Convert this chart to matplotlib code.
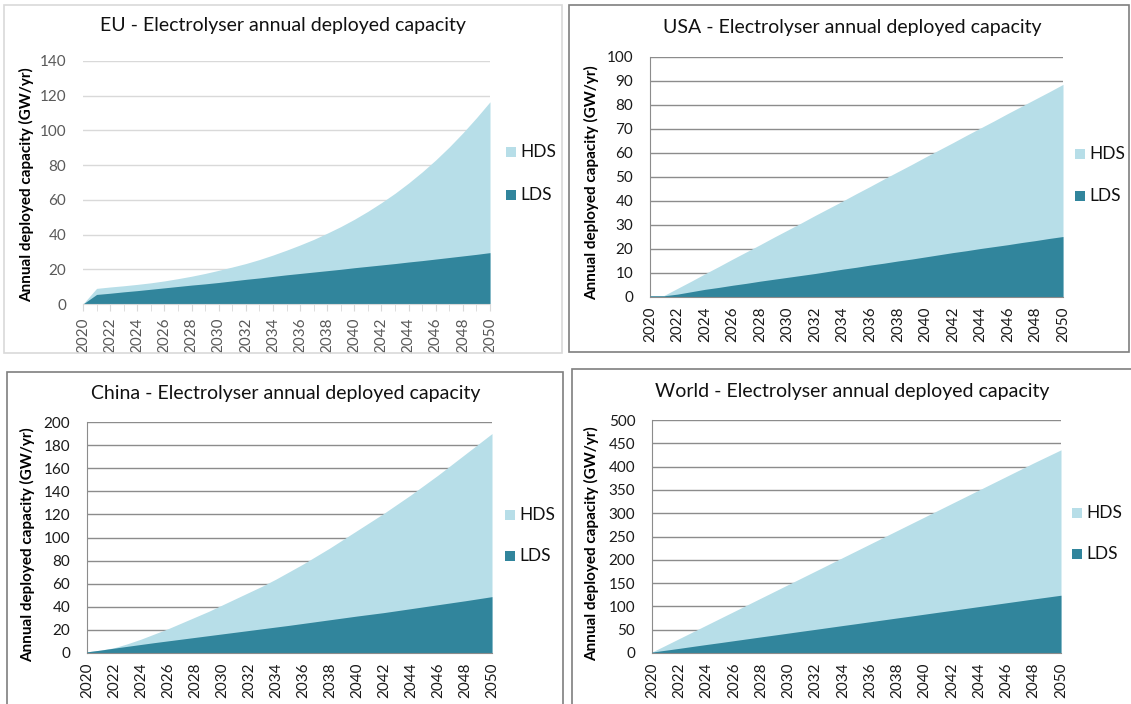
import matplotlib
matplotlib.use("Agg")
import matplotlib.pyplot as plt
from matplotlib.patches import Rectangle, Patch

plt.rcParams['font.family'] = ['Lato', 'DejaVu Sans']

years = list(range(2020, 2051))

eu_hds = [0, 9.0, 9.8, 10.5, 11.3, 12.2, 13.3, 14.6, 16.0, 17.6, 19.4, 21.3, 23.3, 25.6, 28.2, 31.0,
          34.0, 37.2, 40.8, 44.6, 48.8, 53.4, 58.4, 63.8, 69.7, 76.1, 83.0, 90.5, 98.6, 107.3, 116.5]
eu_lds = [0, 5.5, 6.2, 7.0, 7.7, 8.5, 9.3, 10.1, 10.9, 11.6, 12.4, 13.3, 14.2, 15.0, 15.9, 16.8,
          17.6, 18.4, 19.2, 20.0, 20.9, 21.7, 22.5, 23.3, 24.2, 25.0, 25.9, 26.8, 27.7, 28.6, 29.6]

usa_hds = [0.5, 0.6, 3.6, 6.6, 9.7, 12.7, 15.8, 18.8, 21.8, 24.9, 27.9, 30.9, 34.0, 37.0, 40.0, 43.1,
           46.1, 49.2, 52.2, 55.2, 58.3, 61.3, 64.3, 67.4, 70.4, 73.4, 76.5, 79.5, 82.5, 85.5, 88.6]
usa_lds = [0.5, 0.5, 1.2, 2.2, 3.2, 4.0, 4.9, 5.7, 6.6, 7.4, 8.2, 9.0, 9.8, 10.7, 11.6, 12.4,
           13.3, 14.1, 15.0, 15.8, 16.7, 17.6, 18.5, 19.3, 20.2, 21.0, 21.8, 22.7, 23.5, 24.4, 25.2]

china_hds = [1, 2.5, 4.5, 8, 12, 16.5, 21, 26, 31, 36, 41.5, 47, 52.5, 58, 64, 70.5,
             77, 84, 91, 98.5, 106, 113.5, 121, 129, 137, 145.5, 154, 163, 172, 181, 190]
china_lds = [1, 2.5, 4.2, 5.8, 7.4, 9.0, 10.5, 12.0, 13.5, 15.0, 16.5, 18.0, 19.5, 21.0, 22.5, 24.0,
             25.6, 27.2, 28.8, 30.4, 32.0, 33.5, 35.0, 36.7, 38.4, 40.1, 41.8, 43.5, 45.2, 47.0, 48.8]

world_hds = [2, 16.5, 31, 45.5, 60, 74.5, 89, 103.5, 118, 132.5, 147, 161.5, 176, 190.5, 205, 219.5,
             234, 248.5, 263, 277.5, 292, 306.5, 321, 335.5, 350, 364.5, 379, 393.5, 408, 422, 436]
world_lds = [2, 6, 10, 14.2, 18.3, 22.3, 26.4, 30.5, 34.6, 38.6, 42.7, 46.8, 50.8, 54.9, 59, 63,
             67.1, 71.2, 75.3, 79.3, 83.4, 87.5, 91.5, 95.6, 99.7, 103.7, 107.8, 111.9, 116, 120, 124]

titles = ["EU - Electrolyser annual deployed capacity",
          "USA - Electrolyser annual deployed capacity",
          "China - Electrolyser annual deployed capacity",
          "World - Electrolyser annual deployed capacity"]
ylabel = "Annual deployed capacity (GW/yr)"
legend_labels = ["HDS", "LDS"]

HDS_COLOR = "#B7DEE8"
LDS_COLOR = "#31859C"

W, H = 1131, 704
fig = plt.figure(figsize=(W / 100, H / 100), dpi=100)
fig.patch.set_facecolor("white")


def fx(x):
    return x / W


def fy(y):
    return 1 - y / H


def frame(x0, y0, x1, y1, color):
    fig.patches.append(Rectangle((fx(x0), fy(y1)), fx(x1 - x0), (y1 - y0) / H,
                                 transform=fig.transFigure, fill=False,
                                 edgecolor=color, linewidth=1.2, zorder=0))


def panel(title, hds, lds, ymax, ystep, box, frame_box, frame_col, title_xy, ylab_xy,
          legend_xy, eu_style):
    left, right, top, bottom = box
    ax = fig.add_axes([fx(left), fy(bottom), fx(right - left), (bottom - top) / H])
    ax.fill_between(years, 0, hds, color=HDS_COLOR, linewidth=0, zorder=2)
    ax.fill_between(years, 0, lds, color=LDS_COLOR, linewidth=0, zorder=3)
    ax.set_xlim(2020, 2050)
    ax.set_ylim(0, ymax)
    ax.set_yticks(range(0, ymax + 1, ystep))
    ax.set_xticks(range(2020, 2051, 2))
    ax.set_xticklabels([str(y) for y in range(2020, 2051, 2)], rotation=90)
    grid_col = "#D9D9D9" if eu_style else "#8C8C8C"
    lab_col = "#595959" if eu_style else "#1A1A1A"
    ax.yaxis.grid(True, color=grid_col, linewidth=1.0, zorder=1)
    ax.set_axisbelow(True)
    for s in ["top", "right"]:
        ax.spines[s].set_visible(False)
    ax.spines["bottom"].set_color(grid_col)
    ax.spines["bottom"].set_zorder(5)
    if eu_style:
        ax.spines["left"].set_visible(False)
        ax.set_xticks(range(2020, 2051, 1), minor=True)
        ax.tick_params(axis="x", which="both", length=5, color=grid_col, pad=5,
                       labelsize=11, labelcolor=lab_col)
    else:
        ax.spines["left"].set_color(grid_col)
        ax.tick_params(axis="x", length=0, pad=7, labelsize=11, labelcolor=lab_col)
    ax.tick_params(axis="y", length=0, pad=12, labelsize=11, labelcolor=lab_col)
    fig.text(fx(title_xy[0]), fy(title_xy[1]), title, ha="center", va="center",
             fontsize=14, color="#111111")
    fig.text(fx(ylab_xy[0]), fy(ylab_xy[1]), ylabel, ha="center", va="center",
             rotation=90, fontsize=11, fontweight="bold", color="#000000")
    handles = [Patch(facecolor=HDS_COLOR, edgecolor="none"),
               Patch(facecolor=LDS_COLOR, edgecolor="none")]
    lx, ly1, ly2 = legend_xy
    for h_, lab, yy in zip(handles, legend_labels, [ly1, ly2]):
        fig.patches.append(Rectangle((fx(lx), fy(yy + 5)), fx(10), 10 / H,
                                     transform=fig.transFigure,
                                     facecolor=h_.get_facecolor(), edgecolor="none"))
        fig.text(fx(lx + 14), fy(yy), lab, ha="left", va="center", fontsize=12.5,
                 color="#111111")
    frame(*frame_box, frame_col)
    return ax


panel(titles[0], eu_hds, eu_lds, 140, 20, (83, 490, 61, 304), (4, 5, 562, 353), "#D9D9D9",
      (283, 26), (27, 185), (506, 152, 195), True)
panel(titles[1], usa_hds, usa_lds, 100, 10, (650, 1063, 57, 297), (569, 5, 1129, 352), "#7F7F7F",
      (852, 28), (592, 183), (1075, 154, 196), False)
panel(titles[2], china_hds, china_lds, 200, 20, (87, 492, 422, 653), (7, 372, 563, 720), "#7F7F7F",
      (286, 393), (28, 545), (505, 515, 556), False)
panel(titles[3], world_hds, world_lds, 500, 50, (652, 1061, 420, 653), (572, 369, 1140, 720), "#7F7F7F",
      (852, 391), (592, 544), (1072, 513, 554), False)

fig.savefig("out.png", dpi=100, facecolor="white")
